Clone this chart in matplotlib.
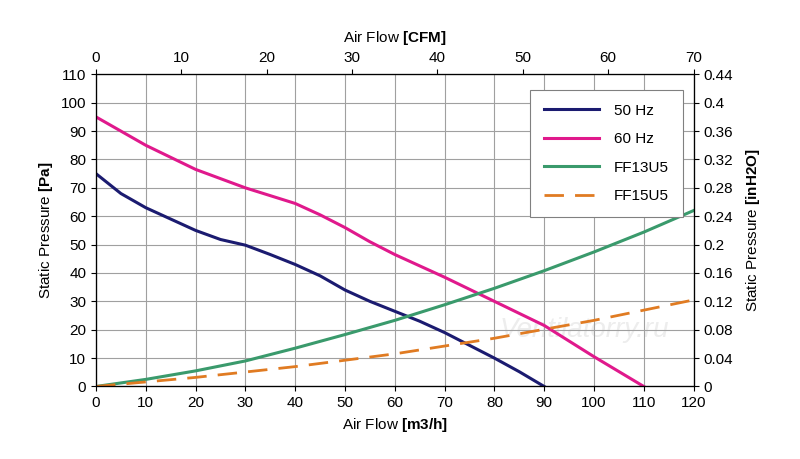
import matplotlib.pyplot as plt
from matplotlib.ticker import MultipleLocator

plt.rcParams["font.family"] = ["Liberation Sans", "DejaVu Sans"]
plt.rcParams["mathtext.fontset"] = "custom"
plt.rcParams["mathtext.rm"] = "Liberation Sans"
plt.rcParams["mathtext.bf"] = "Liberation Sans:bold"

flow_50 = [0, 5, 10, 15, 20, 25, 30, 35, 40, 45, 50, 55, 60, 65, 70, 75, 80, 85, 90]
pres_50 = [75, 68, 63, 59, 55, 51.8, 49.8, 46.5, 43, 39, 34, 30, 26.5, 23, 19, 14.5, 10, 5.2, 0]
flow_60 = [0, 10, 20, 30, 40, 45, 50, 55, 60, 70, 80, 90, 100, 110]
pres_60 = [95, 85, 76.5, 70, 64.5, 60.5, 56, 51, 46.5, 38.5, 30, 21.5, 10.5, 0]
flow_13 = [0, 10, 20, 30, 40, 50, 60, 70, 80, 90, 100, 110, 120]
pres_13 = [0, 2.5, 5.5, 9, 13.5, 18.3, 23.3, 28.8, 34.6, 40.8, 47.4, 54.4, 62]
flow_15 = [0, 20, 40, 60, 80, 100, 120]
pres_15 = [0, 3.2, 7, 11.5, 17, 23.3, 30.5]
inh2o_ticks = [0, 0.04, 0.08, 0.12, 0.16, 0.2, 0.24, 0.28, 0.32, 0.36, 0.4, 0.44]

fig, ax = plt.subplots(figsize=(8, 4.59), dpi=100)
fig.subplots_adjust(left=0.12, right=0.867, top=0.838, bottom=0.158)

ax.plot(flow_50, pres_50, color="#1b1b70", lw=2.2, label="50 Hz")
ax.plot(flow_60, pres_60, color="#e0198c", lw=2.2, label="60 Hz")
ax.plot(flow_13, pres_13, color="#3a9a6c", lw=2.2, label="FF13U5")
ax.plot(flow_15, pres_15, color="#e07b22", lw=2.0, ls=(0, (7, 4)), label="FF15U5")

ax.set_xlim(0, 120)
ax.set_ylim(0, 110)
ax.xaxis.set_major_locator(MultipleLocator(10))
ax.yaxis.set_major_locator(MultipleLocator(10))
ax.grid(True, color="#a0a0a0", lw=0.8)
ax.tick_params(labelsize=11)
ax.set_xlabel("Air Flow $\\bf{[m3/h]}$", fontsize=11)
ax.set_ylabel("Static Pressure $\\bf{[Pa]}$", fontsize=11)

top = ax.twiny()
top.set_xlim(0, 70)
top.xaxis.set_major_locator(MultipleLocator(10))
top.tick_params(labelsize=11)
top.set_xlabel("Air Flow $\\bf{[CFM]}$", fontsize=11, labelpad=6)

right = ax.twinx()
right.set_ylim(0, 0.44)
right.set_yticks(inh2o_ticks)
right.set_yticklabels([f"{t:g}" for t in inh2o_ticks])
right.tick_params(labelsize=11)
right.set_ylabel("Static Pressure $\\bf{[inH2O]}$", fontsize=11, labelpad=8)

leg = ax.legend(loc="upper right", bbox_to_anchor=(0.995, 0.975), fontsize=11,
                fancybox=False, edgecolor="#808080", framealpha=1,
                handlelength=3.6, labelspacing=0.95, borderpad=0.9, handletextpad=1.0)
leg.get_frame().set_linewidth(0.8)

ax.text(98, 20, "Ventilatorry.ru", fontsize=20, style="italic", color="#ededed",
        ha="center", va="center", zorder=0)

fig.savefig("out.png", dpi=100)
